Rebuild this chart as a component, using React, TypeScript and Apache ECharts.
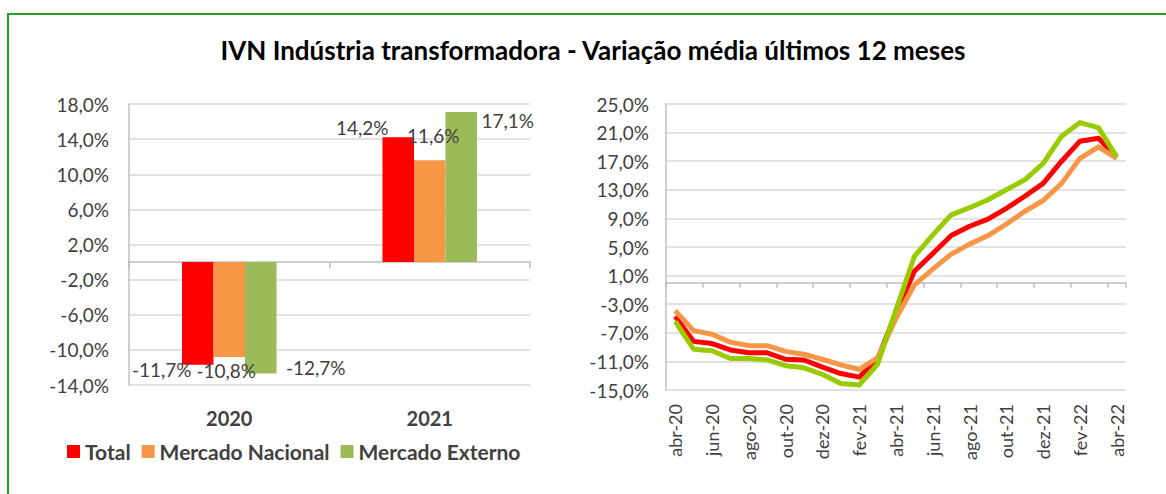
import React, { useEffect, useRef } from "react";
import * as echarts from "echarts";

// ---- data ----
const years = ["2020", "2021"];
const seriesNames = ["Total", "Mercado Nacional", "Mercado Externo"];
const barTotal = [-11.7, 14.2];
const barNacional = [-10.8, 11.6];
const barExterno = [-12.7, 17.1];

const months = [
  "abr-20", "mai-20", "jun-20", "jul-20", "ago-20", "set-20", "out-20", "nov-20", "dez-20",
  "jan-21", "fev-21", "mar-21", "abr-21", "mai-21", "jun-21", "jul-21", "ago-21", "set-21",
  "out-21", "nov-21", "dez-21", "jan-22", "fev-22", "mar-22", "abr-22",
];
const lineTotal = [
  -4.7, -8.2, -8.5, -9.4, -9.8, -9.8, -10.7, -10.8, -11.8, -12.7, -13.2, -10.7, -4.2,
  1.6, 4.1, 6.6, 7.9, 8.9, 10.4, 12.1, 13.9, 17.0, 19.8, 20.2, 17.6,
];
const lineNacional = [
  -3.9, -6.7, -7.2, -8.3, -8.8, -8.8, -9.6, -10.0, -10.7, -11.5, -12.1, -10.5, -5.0,
  -0.3, 1.9, 4.0, 5.4, 6.6, 8.2, 10.0, 11.5, 13.9, 17.4, 19.0, 17.4,
];
const lineExterno = [
  -5.4, -9.3, -9.5, -10.6, -10.6, -10.8, -11.6, -11.9, -12.8, -14.1, -14.3, -11.4, -3.8,
  3.7, 6.7, 9.5, 10.5, 11.6, 13.0, 14.4, 16.7, 20.5, 22.4, 21.7, 17.6,
];

// ---- styles ----
const FONT = "Lato, 'Liberation Sans', sans-serif";
const TXT = "#404040";
const GRID_COLOR = "#D9D9D9";
const AXIS_COLOR = "#BFBFBF";
const barColors = ["#FF0000", "#F79646", "#9BBB59"];
const lineColors = ["#FF0000", "#F79646", "#99CC00"];
// label offsets [dx, dy] from bar end, per series per category
const barLabelOffsets = [
  [[-36, 4.5], [-36, -10]],
  [[-3, 14], [3.5, -25]],
  [[55, -6], [46.5, 9]],
];

const pct = (v: number) => v.toFixed(1).replace(".", ",") + "%";

export default function App() {
  const ref = useRef<HTMLDivElement>(null);
  useEffect(() => {
    const chart = echarts.init(ref.current!, null, { renderer: "svg" });
    const barData = [barTotal, barNacional, barExterno];
    const lineData = [lineTotal, lineNacional, lineExterno];

    const barSeries = barData.map((vals, si) => ({
      type: "bar",
      name: seriesNames[si],
      xAxisIndex: 0,
      yAxisIndex: 0,
      barWidth: 31.5,
      barGap: "0%",
      itemStyle: { color: barColors[si] },
      label: {
        show: true,
        distance: 0,
        formatter: (p: any) => pct(p.value),
        color: TXT,
        fontSize: 19,
        fontFamily: FONT,
        align: "center",
        verticalAlign: "middle",
      },
      data: vals.map((v, i) => ({
        value: v,
        label: { position: v < 0 ? "bottom" : "top", offset: barLabelOffsets[si][i] },
      })),
    }));

    const lineSeries = lineData.map((vals, si) => ({
      type: "line",
      name: seriesNames[si],
      xAxisIndex: 2,
      yAxisIndex: 1,
      symbol: "none",
      lineStyle: { color: lineColors[si], width: 5, join: "round" },
      itemStyle: { color: lineColors[si] },
      data: vals,
    }));

    const yLabel = { color: TXT, fontSize: 19, fontFamily: FONT, formatter: pct };

    chart.setOption({
      animation: false,
      backgroundColor: "#FFFFFF",
      grid: [
        { left: 129, top: 104, width: 401, height: 281 },
        { left: 666, top: 104, width: 460, height: 286 },
      ],
      xAxis: [
        {
          gridIndex: 0, type: "category", data: years, position: "bottom",
          axisLine: { show: false, onZero: false }, axisTick: { show: false },
          axisLabel: { margin: 23, color: TXT, fontSize: 20, fontWeight: "bold", fontFamily: FONT },
        },
        {
          gridIndex: 0, type: "category", data: years, position: "bottom",
          axisLine: { show: true, onZero: true, lineStyle: { color: AXIS_COLOR, width: 1.5 } },
          axisTick: { show: true, length: 6, lineStyle: { color: AXIS_COLOR, width: 1.5 } },
          axisLabel: { show: false },
        },
        {
          gridIndex: 1, type: "category", data: months, position: "bottom", boundaryGap: true,
          axisLine: { show: false, onZero: false }, axisTick: { show: false },
          axisLabel: { interval: 1, rotate: 90, margin: 14, color: TXT, fontSize: 18, fontFamily: FONT },
        },
        {
          gridIndex: 1, type: "category", data: months, position: "bottom", boundaryGap: true,
          axisLine: { show: true, onZero: true, lineStyle: { color: AXIS_COLOR, width: 1.5 } },
          axisTick: { show: true, interval: 1, length: 5, lineStyle: { color: AXIS_COLOR, width: 1.5 } },
          axisLabel: { show: false },
        },
      ],
      yAxis: [
        {
          gridIndex: 0, type: "value", min: -14, max: 18, interval: 4,
          axisLine: { show: true, lineStyle: { color: AXIS_COLOR, width: 1.5 } },
          axisTick: { show: false },
          splitLine: { show: true, lineStyle: { color: GRID_COLOR, width: 1.5 } },
          axisLabel: { ...yLabel, margin: 20 },
        },
        {
          gridIndex: 1, type: "value", min: -15, max: 25, interval: 4,
          axisLine: { show: true, lineStyle: { color: AXIS_COLOR, width: 1.5 } },
          axisTick: { show: false },
          splitLine: { show: true, lineStyle: { color: GRID_COLOR, width: 1.5 } },
          axisLabel: { ...yLabel, margin: 17 },
        },
      ],
      legend: {
        data: seriesNames,
        left: 67,
        top: 441,
        padding: 0,
        itemWidth: 13,
        itemHeight: 13,
        itemGap: 11,
        icon: "rect",
        selectedMode: false,
        textStyle: { color: TXT, fontSize: 21, fontWeight: "bold", fontFamily: FONT },
      },
      graphic: [
        {
          type: "rect", silent: true,
          shape: { x: 8, y: 14, width: 1170, height: 490 },
          style: { fill: "none", stroke: "#22A022", lineWidth: 2 },
        },
        {
          type: "text", x: 593, y: 50,
          style: {
            text: "IVN Indústria transformadora - Variação média últimos 12 meses",
            fontSize: 26, fontWeight: "bold", fontFamily: FONT, fill: "#000000",
            align: "center", verticalAlign: "middle",
          },
        },
      ],
      series: [...barSeries, ...lineSeries],
    });
    return () => chart.dispose();
  }, []);
  return (
    <div
      ref={ref}
      style={{ position: "absolute", left: 0, top: 0, width: 1166, height: 494 }}
    />
  );
}
